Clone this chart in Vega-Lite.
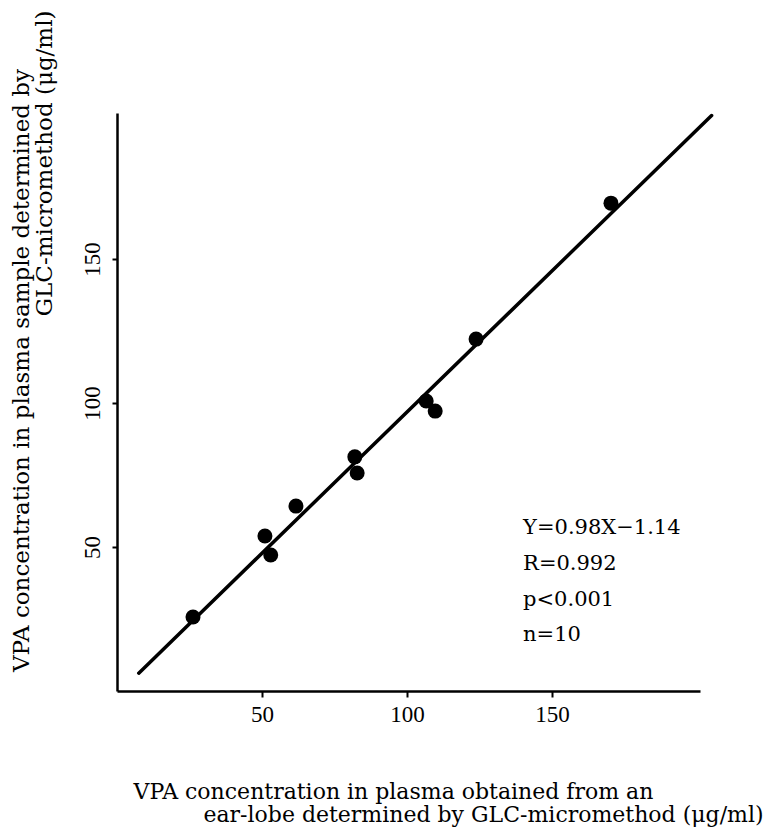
{
  "$schema": "https://vega.github.io/schema/vega-lite/v6.json",
  "width": 583,
  "height": 578,
  "autosize": "none",
  "padding": {"left": 117, "top": 113, "right": 71, "bottom": 141},
  "background": "white",
  "config": {
    "view": {"stroke": null},
    "axis": {
      "grid": false,
      "domainColor": "black",
      "domainWidth": 2.5,
      "tickColor": "black",
      "tickWidth": 2,
      "labelColor": "black",
      "titleColor": "black",
      "titleFontWeight": "normal",
      "titleLineHeight": 23
    }
  },
  "datasets": {
    "points": [
      {"x": 26.2, "y": 25.7},
      {"x": 51.0, "y": 53.8},
      {"x": 53.0, "y": 47.2},
      {"x": 61.7, "y": 64.2},
      {"x": 82.0, "y": 81.3},
      {"x": 82.8, "y": 75.7},
      {"x": 106.6, "y": 100.7},
      {"x": 109.7, "y": 97.2},
      {"x": 123.8, "y": 122.2},
      {"x": 170.3, "y": 169.4}
    ],
    "fit": [
      {"x": 7.5, "y": 6.2},
      {"x": 205, "y": 199.8}
    ],
    "stats": [
      {"x": 140, "y": 56.6, "label": "Y=0.98X−1.14"},
      {"x": 140, "y": 44.1, "label": "R=0.992"},
      {"x": 140, "y": 31.6, "label": "p<0.001"},
      {"x": 140, "y": 19.4, "label": "n=10"}
    ]
  },
  "encoding": {
    "x": {
      "field": "x",
      "type": "quantitative",
      "scale": {"domain": [0, 201], "nice": false, "zero": false},
      "axis": {
        "values": [50, 100, 150],
        "tickSize": 6,
        "labelPadding": 6,
        "labelFont": "Liberation Serif",
        "labelFontSize": 23,
        "title": ["VPA concentration in plasma obtained from an", "\u200b\u00a0\u00a0\u00a0\u00a0\u00a0\u00a0\u00a0\u00a0\u00a0\u00a0ear-lobe determined by GLC-micromethod (μg/ml)"],
        "titleFont": "DejaVu Serif",
        "titleFontSize": 22,
        "titleAlign": "left",
        "titleAnchor": "start",
        "titleBaseline": "middle",
        "titleX": 16,
        "titleY": 100
      }
    },
    "y": {
      "field": "y",
      "type": "quantitative",
      "scale": {"domain": [0, 200.7], "nice": false, "zero": false},
      "axis": {
        "values": [50, 100, 150],
        "tickSize": 5,
        "labelPadding": 8,
        "labelFont": "Liberation Serif",
        "labelFontSize": 23,
        "labelAngle": -90,
        "labelAlign": "center",
        "labelBaseline": "bottom",
        "title": ["VPA concentration in plasma sample determined by\u00a0\u00a0\u00a0\u00a0\u00a0\u00a0\u00a0\u00a0\u200b", "GLC-micromethod (μg/ml)"],
        "titleFont": "DejaVu Serif",
        "titleFontSize": 23,
        "titleAngle": -90,
        "titleAlign": "right",
        "titleBaseline": "middle",
        "titleX": -96,
        "titleY": -103
      }
    }
  },
  "layer": [
    {
      "data": {"name": "fit"},
      "mark": {"type": "line", "color": "black", "strokeWidth": 3.5, "strokeCap": "round", "clip": false}
    },
    {
      "data": {"name": "points"},
      "mark": {"type": "circle", "size": 225, "color": "black", "opacity": 1}
    },
    {
      "data": {"name": "stats"},
      "mark": {"type": "text", "align": "left", "baseline": "middle", "font": "DejaVu Serif", "fontSize": 21, "color": "black"},
      "encoding": {"text": {"field": "label"}}
    }
  ]
}
